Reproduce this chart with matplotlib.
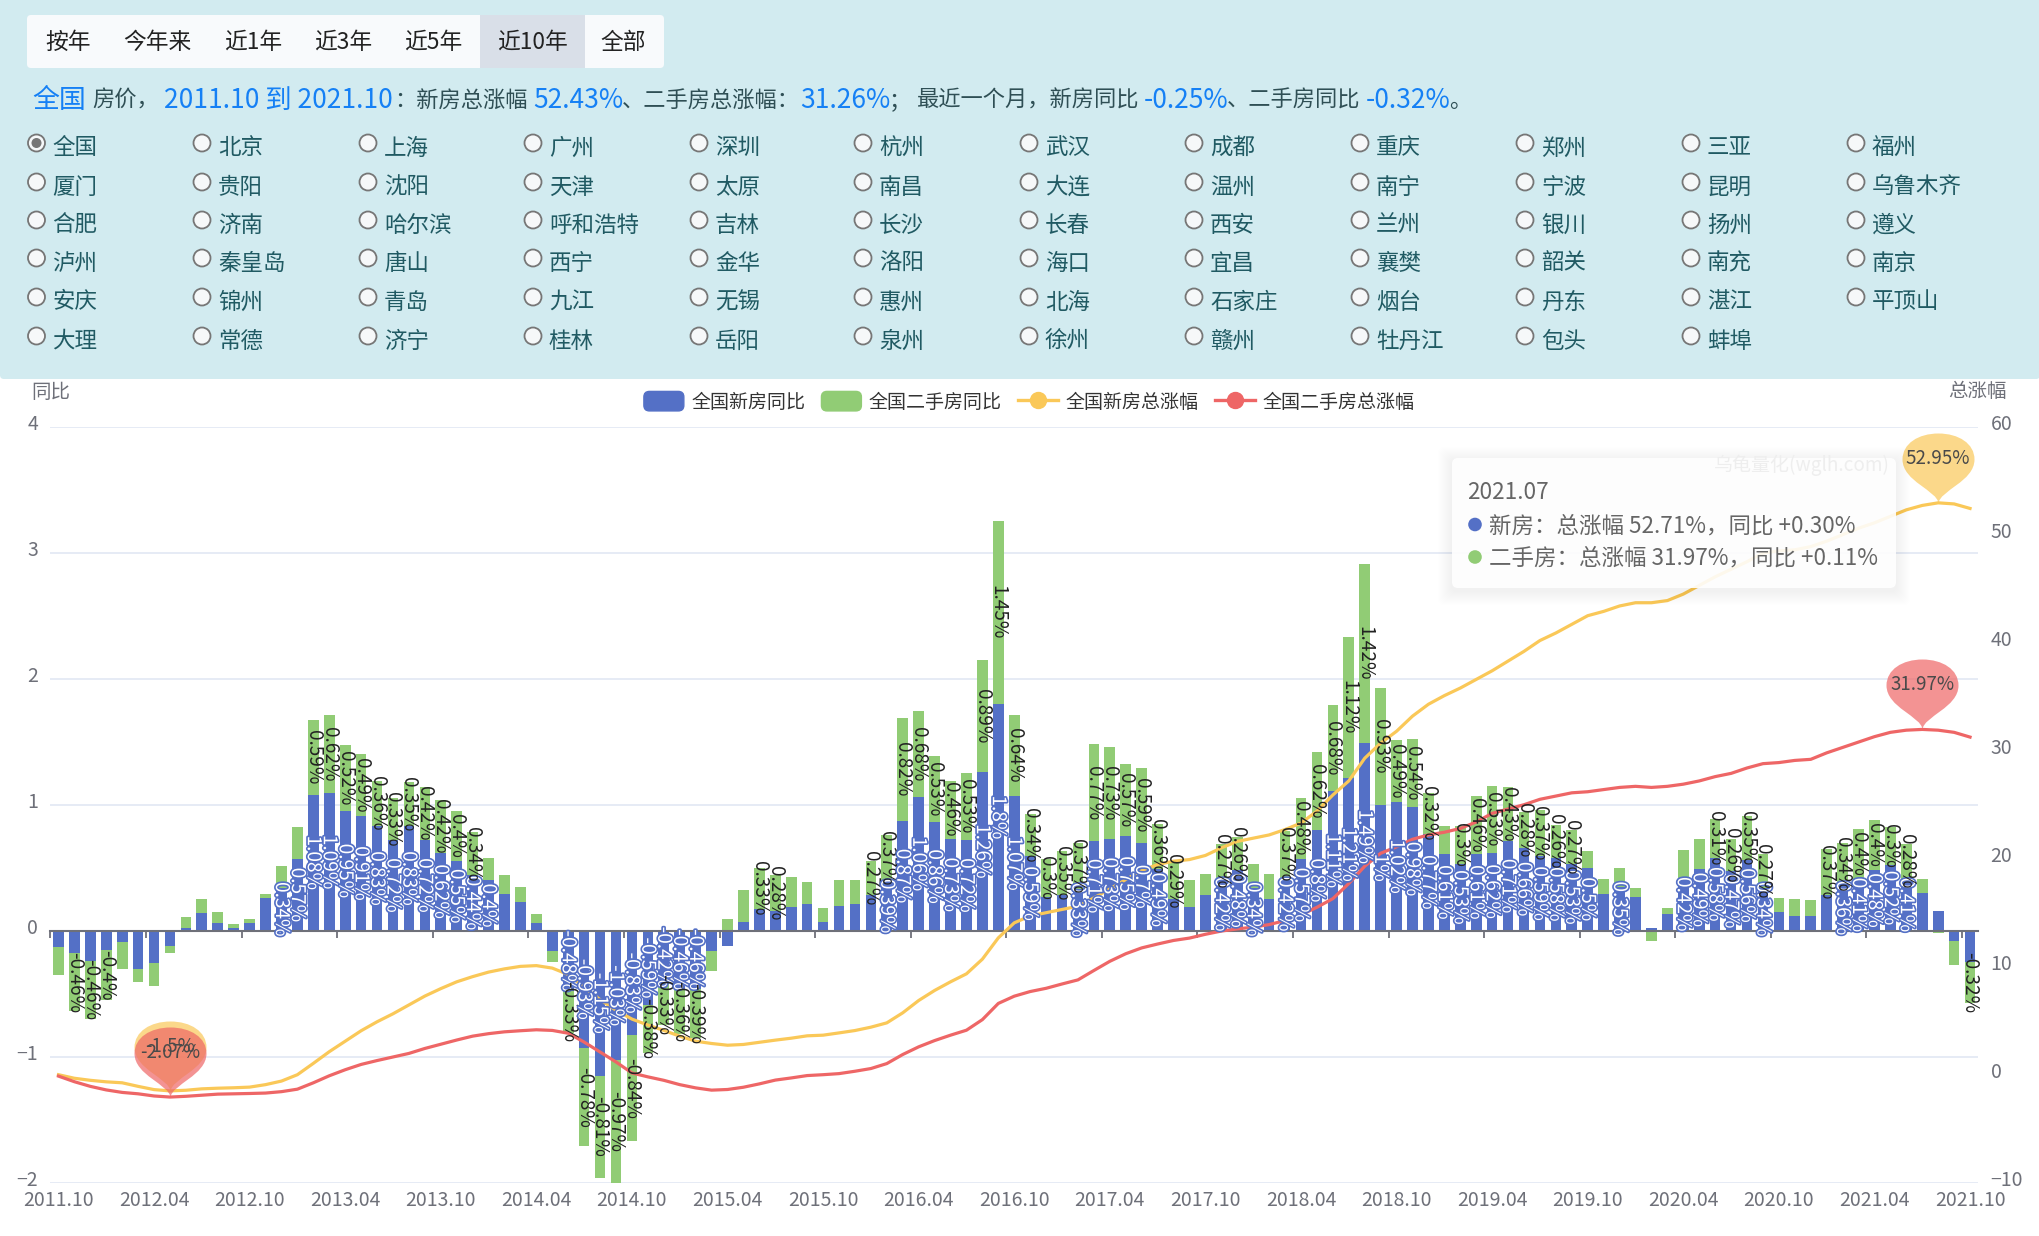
import numpy as np
import matplotlib
matplotlib.use("Agg")
import matplotlib.pyplot as plt
from matplotlib.path import Path
from matplotlib.patches import Patch, FancyBboxPatch, Circle, Rectangle
from matplotlib.lines import Line2D
from matplotlib.legend_handler import HandlerPatch
from matplotlib.transforms import ScaledTranslation
import matplotlib.patheffects as pe

plt.rcParams['font.family'] = ['Noto Sans CJK SC', 'DejaVu Sans']

tick_labels = ['2011.10', '2012.04', '2012.10', '2013.04', '2013.10', '2014.04', '2014.10',
               '2015.04', '2015.10', '2016.04', '2016.10', '2017.04', '2017.10', '2018.04',
               '2018.10', '2019.04', '2019.10', '2020.04', '2020.10', '2021.04', '2021.10']

new_yoy = [
    -.13, -.18, -.24, -.15, -.09, -.30, -.26, -.12, .02, .14,
    .06, .02, .06, .26, .34, .57, 1.08, 1.09, .95, .91,
    .83, .72, .83, .72, .62, .55, .44, .4, .29, .23,
    .06, -.16, -.48, -.93, -1.15, -1.03, -.83, -.59, -.42, -.46,
    -.46, -.16, -.12, .07, .17, .16, .19, .21, .07, .20,
    .21, .28, .39, .87, 1.06, .86, .73, .72, 1.26, 1.8,
    1.07, .59, .27, .28, .33, .71, .73, .75, .7, .49,
    .25, .19, .28, .42, .48, .34, .25, .42, .57, .8,
    1.11, 1.21, 1.49, 1.0, 1.02, .98, .77, .61, .53, .61,
    .62, .71, .66, .59, .58, .53, .5, .29, .35, .27,
    .02, .13, .42, .49, .58, .47, .56, .34, .15, .12,
    .12, .28, .36, .41, .48, .52, .41, .30, .16, -.08,
    -.25]

used_yoy = [
    -.22, -.46, -.46, -.4, -.21, -.11, -.18, -.06, .09, .11,
    .09, .03, .03, .03, .17, .25, .59, .62, .52, .49,
    .36, .33, .35, .42, .42, .4, .34, .18, .15, .12,
    .07, -.09, -.33, -.78, -.81, -.97, -.84, -.38, -.33, -.36,
    -.39, -.16, .09, .25, .33, .28, .24, .18, .11, .2,
    .19, .27, .37, .82, .68, .53, .46, .53, .89, 1.45,
    .64, .34, .3, .35, .37, .77, .73, .57, .59, .36,
    .29, .21, .17, .27, .26, .19, .2, .37, .48, .62,
    .68, 1.12, 1.42, .93, .49, .54, .32, .22, .3, .46,
    .53, .43, .28, .37, .26, .27, .13, .12, .15, .07,
    -.08, .05, .22, .24, .31, .26, .35, .27, .11, .13,
    .12, .37, .34, .4, .4, .3, .28, .11, -.02, -.19,
    -.32]

new_total = [
    0, -.33, -.52, -.66, -.75, -1.08, -1.38, -1.5, -1.44, -1.31,
    -1.25, -1.21, -1.15, -.92, -.59, 0, 1.05, 2.13, 3.1, 4.07,
    4.9, 5.64, 6.46, 7.28, 7.97, 8.6, 9.08, 9.5, 9.8, 10.03,
    10.1, 9.87, 9.28, 8.1, 6.95, 5.97, 5.15, 4.6, 4.1, 3.57,
    3.1, 2.89, 2.73, 2.8, 3.0, 3.2, 3.38, 3.6, 3.66, 3.87,
    4.09, 4.4, 4.8, 5.73, 6.87, 7.8, 8.6, 9.34, 10.7, 12.67,
    14.06, 14.7, 15, 15.3, 15.6, 16.37, 17.2, 18.07, 18.9, 19.46,
    19.77, 19.92, 20.3, 21, 21.6, 21.9, 22.2, 22.7, 23.3, 24.4,
    25.9, 27.2, 29.3, 30.7, 31.8, 33.2, 34.3, 35.1, 35.8, 36.6,
    37.4, 38.3, 39.2, 40.2, 40.9, 41.7, 42.5, 42.9, 43.4, 43.7,
    43.7, 43.9, 44.5, 45.3, 46.1, 46.8, 47.5, 48.3, 48.5, 48.6,
    48.9, 49.4, 50, 50.6, 51.1, 51.7, 52.3, 52.71, 52.95, 52.85,
    52.43]

used_total = [
    -.13, -.65, -1.08, -1.41, -1.64, -1.77, -1.97, -2.07, -2.0, -1.9,
    -1.8, -1.77, -1.74, -1.7, -1.57, -1.34, -.75, -.1, .46, .95,
    1.31, 1.64, 1.97, 2.43, 2.82, 3.21, 3.57, 3.8, 3.97, 4.07,
    4.16, 4.1, 3.84, 3.02, 2.1, 1.18, .16, -.2, -.52, -.92,
    -1.22, -1.43, -1.37, -1.16, -.85, -.5, -.3, -.08, 0, .1,
    .32, .57, 1.03, 1.87, 2.58, 3.16, 3.66, 4.12, 5.1, 6.6,
    7.27, 7.7, 8.0, 8.4, 8.78, 9.65, 10.5, 11.2, 11.74, 12.1,
    12.43, 12.65, 13, 13.3, 13.5, 13.66, 13.9, 14.27, 14.8, 15.5,
    16.3, 17.7, 19.3, 20.5, 21.1, 21.8, 22.2, 22.45, 22.8, 23.4,
    24.2, 24.6, 25, 25.5, 25.8, 26.1, 26.2, 26.4, 26.6, 26.7,
    26.6, 26.7, 26.9, 27.2, 27.6, 27.9, 28.4, 28.8, 28.9, 29.1,
    29.2, 29.8, 30.3, 30.8, 31.3, 31.7, 31.9, 31.97, 31.9, 31.7,
    31.26]

series_names = ['全国新房同比', '全国二手房同比', '全国新房总涨幅', '全国二手房总涨幅']
range_buttons = ['按年', '今年来', '近1年', '近3年', '近5年', '近10年', '全部']
cities = ['全国', '北京', '上海', '广州', '深圳', '杭州', '武汉', '成都', '重庆', '郑州', '三亚', '福州',
          '厦门', '贵阳', '沈阳', '天津', '太原', '南昌', '大连', '温州', '南宁', '宁波', '昆明', '乌鲁木齐',
          '合肥', '济南', '哈尔滨', '呼和浩特', '吉林', '长沙', '长春', '西安', '兰州', '银川', '扬州', '遵义',
          '泸州', '秦皇岛', '唐山', '西宁', '金华', '洛阳', '海口', '宜昌', '襄樊', '韶关', '南充', '南京',
          '安庆', '锦州', '青岛', '九江', '无锡', '惠州', '北海', '石家庄', '烟台', '丹东', '湛江', '平顶山',
          '大理', '常德', '济宁', '桂林', '岳阳', '泉州', '徐州', '赣州', '牡丹江', '包头', '蚌埠']

W, H = 2040, 1236
BLUE, GREEN, YELLOW, RED = '#5470c6', '#91cc75', '#fac858', '#ee6666'
AXC = '#6e7079'
GRID = '#e6ebf5'

fig = plt.figure(figsize=(W / 100, H / 100), dpi=100, facecolor='white')
L, R, T, B = 50.5, 1978.0, 426.7, 1182.7
ax = fig.add_axes([L / W, 1 - B / H, (R - L) / W, (B - T) / H])
ax2 = ax.twinx()

x = np.arange(len(new_yoy))
blue = np.array(new_yoy)
green = np.array(used_yoy)
green_base = np.where(np.sign(blue) == np.sign(green), blue, 0)
ax.bar(x, blue, width=0.67, color=BLUE, linewidth=0)
ax.bar(x, green, width=0.67, bottom=green_base, color=GREEN, linewidth=0)

ax.set_xlim(-0.5, 120.5)
ax.set_ylim(-2, 4)
ax.set_yticks(range(-2, 5))
ax.grid(axis='y', color=GRID, lw=1.4)
ax.set_axisbelow(True)
for s in ['top', 'left', 'right']:
    ax.spines[s].set_visible(False)
ax.spines['bottom'].set_position(('data', 0))
ax.spines['bottom'].set_color(AXC)
ax.spines['bottom'].set_linewidth(1.5)
ax.spines['bottom'].set_zorder(2.5)
ax.set_xticks(np.arange(-0.5, 121, 6))
ax.set_xticklabels([])
ax.set_xticks(np.arange(0, 121, 6), minor=True)
ax.set_xticklabels(tick_labels, minor=True)
ax.tick_params(axis='x', which='major', length=5, width=1.3, color=AXC)
ax.tick_params(axis='x', which='minor', length=0, pad=187, labelsize=14, labelcolor=AXC)
ax.tick_params(axis='y', length=0, pad=9, labelsize=14, labelcolor=AXC)

ax2.set_ylim(-10, 60)
ax2.set_yticks(range(-10, 61, 10))
ax2.tick_params(axis='y', length=0, pad=9, labelsize=14, labelcolor=AXC)
for s in ax2.spines.values():
    s.set_visible(False)

# the value labels of both scales sit a little above their gridlines
up = ScaledTranslation(0, 4.5 / 100, fig.dpi_scale_trans)
for lab in list(ax.get_yticklabels()) + list(ax2.get_yticklabels()):
    lab.set_transform(lab.get_transform() + up)

line_n, = ax2.plot(x, new_total, color=YELLOW, lw=2.3, solid_joinstyle='round', zorder=3)
line_u, = ax2.plot(x, used_total, color=RED, lw=2.3, solid_joinstyle='round', zorder=3)

# pin marker (tip at the origin, units are pixels)
pin = Path(
    [(0, 0), (1, 13), (36, 22), (36, 44), (36, 60), (20, 70), (0, 70), (-20, 70), (-36, 60), (-36, 44),
     (-36, 22), (-1, 13), (0, 0), (0, 0)],
    [Path.MOVETO] + [Path.CURVE4] * 12 + [Path.CLOSEPOLY])
pin_ms = 2 * np.max(np.abs(pin.vertices)) * 0.72


def mark(series, color):
    arr = np.array(series)
    for i in (int(np.argmin(arr)), int(np.argmax(arr))):
        ax2.plot([x[i]], [arr[i]], marker=pin, ms=pin_ms, color=color, mec='none', alpha=0.7,
                 linestyle='none', zorder=4)
        ax2.annotate(f'{arr[i]:g}%', (x[i], arr[i]), xytext=(0, 32), textcoords='offset points',
                     ha='center', va='center', fontsize=13.5, color='#4a4a4a', zorder=6)


mark(new_total, YELLOW)
mark(used_total, RED)

# bar value labels sit above the lines
halo = [pe.withStroke(linewidth=2.4, foreground=BLUE)]
for i in x:
    if abs(blue[i]) >= 0.33:
        ax2.text(i, blue[i] / 2, f'{blue[i]:g}%', transform=ax.transData, rotation=270, ha='center',
                 va='center', fontsize=13.7, color='white', path_effects=halo, zorder=5)
    if abs(green[i]) >= 0.26:
        ax2.text(i, green_base[i] + green[i] / 2, f'{green[i]:g}%', transform=ax.transData, rotation=270,
                 ha='center', va='center', fontsize=13.7, color='#222222', zorder=5)


def rounded(legend, orig_handle, xdescent, ydescent, width, height, fontsize):
    r = 4
    return FancyBboxPatch((-xdescent + r, -ydescent + r), width - 2 * r, height - 2 * r,
                          boxstyle=f'round,pad={r}')


h1 = Patch(color=BLUE, label=series_names[0])
h2 = Patch(color=GREEN, label=series_names[1])
h3 = Line2D([], [], color=YELLOW, lw=2.4, marker='o', ms=11.5, label=series_names[2])
h4 = Line2D([], [], color=RED, lw=2.4, marker='o', ms=11.5, label=series_names[3])
leg = ax2.legend(handles=[h1, h2, h3, h4], ncol=4, frameon=False, loc='center',
                 bbox_to_anchor=(1029 / W, 1 - 402 / H), bbox_transform=fig.transFigure,
                 fontsize=13.7, labelcolor='#333333', handlelength=2.1, handleheight=1.2,
                 handletextpad=0.4, columnspacing=0.84, borderpad=0, borderaxespad=0,
                 handler_map={Patch: HandlerPatch(patch_func=rounded)})

# overlay in pixel coordinates
ov = fig.add_axes([0, 0, 1, 1], facecolor='none')
ov.set_xlim(0, W)
ov.set_ylim(H, 0)
ov.axis('off')

PANEL = '#d2ebf0'
ov.add_patch(FancyBboxPatch((4, 0), W - 8, 375, boxstyle='round,pad=4', fc=PANEL, ec='none'))
ov.add_patch(Rectangle((0, 0), W, 300, fc=PANEL, ec='none'))

# button strip
ov.add_patch(FancyBboxPatch((31, 19), 629, 45, boxstyle='round,pad=4', fc='#f8fafc', ec='none'))
ov.add_patch(Rectangle((480, 15), 105, 53, fc='#d9dfe8', ec='none'))
btn_x = [68, 157, 253, 343, 433, 532, 623]
for bx, t in zip(btn_x, range_buttons):
    ov.text(bx, 42.5, t, ha='center', va='center', fontsize=16.4, color='#222222')

# summary line
DARK = '#2f4f55'
LINK = '#1580f5'
pieces = [(32, '全国', LINK, 19.4), (92, '房价，', DARK, 16), (164, '2011.10 到 2021.10', LINK, 19),
          (394, '：新房总涨幅', DARK, 16), (533, '52.43%', LINK, 19), (622, '、二手房总涨幅：', DARK, 16),
          (800, '31.26%', LINK, 19), (889, '；', DARK, 16), (917, '最近一个月，新房同比', DARK, 16),
          (1144, '-0.25%', LINK, 19), (1227, '、二手房同比', DARK, 16), (1366, '-0.32%', LINK, 19),
          (1449, '。', DARK, 16)]
for px, t, c, fs in pieces:
    ov.text(px, 100.5, t, ha='left', va='center', fontsize=fs, color=c)

# radio grid
col_x = [36.5, 202, 368, 533, 699, 863, 1029, 1194, 1360, 1525, 1691, 1856]
row_y = [143, 182, 220, 258, 297, 336]
for k, name in enumerate(cities):
    cx, cy = col_x[k % 12], row_y[k // 12]
    ov.add_patch(Circle((cx, cy), 8.5, fc='#f6f8f9', ec='#767676', lw=1.3))
    if k == 0:
        ov.add_patch(Circle((cx, cy), 5, fc='#767676', ec='none'))
    ov.text(cx + 16, cy + 5, name, ha='left', va='center', fontsize=16.2, color='#205a63')

# axis names
ov.text(31, 392.5, '同比', ha='left', va='center', fontsize=14, color=AXC)
ov.text(1948, 391.5, '总涨幅', ha='left', va='center', fontsize=14, color=AXC)

# watermark
ov.text(1714, 465, '乌龟量化(wglh.com)', ha='left', va='center', fontsize=13.7, color='#eeeeee')

# tooltip
tx, ty, tw, th = 1452, 458, 444, 130
for g in range(14, 0, -1):
    ov.add_patch(FancyBboxPatch((tx + 6 - g, ty + 9 - g), tw - 12 + 2 * g, th - 12 + 2 * g,
                                boxstyle='round,pad=6', fc='black', ec='none', alpha=0.005))
ov.add_patch(FancyBboxPatch((tx + 6, ty + 6), tw - 12, th - 12, boxstyle='round,pad=6',
                            fc='white', ec='none', alpha=0.9))
ov.text(1467, 492.5, '2021.07', ha='left', va='center', fontsize=16.3, color='#666666')
ov.add_patch(Circle((1475, 524.5), 6.8, fc=BLUE, ec='none'))
ov.add_patch(Circle((1475, 557), 6.8, fc=GREEN, ec='none'))
ov.text(1489, 526.5, '新房：总涨幅 52.71%，同比 +0.30%', ha='left', va='center', fontsize=16.2, color='#666666')
ov.text(1489, 558.5, '二手房：总涨幅 31.97%，同比 +0.11%', ha='left', va='center', fontsize=16.2, color='#666666')

fig.savefig('out.png', dpi=100, facecolor='white')
